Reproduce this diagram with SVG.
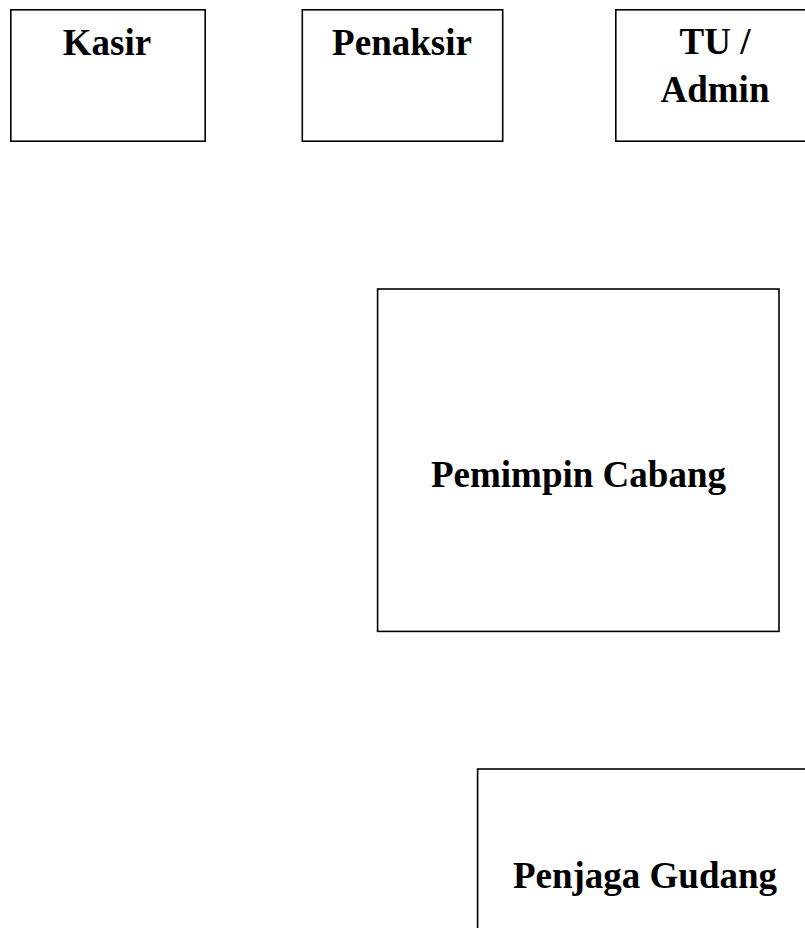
<svg xmlns="http://www.w3.org/2000/svg" width="805" height="928" viewBox="0 0 805 928">
<style>
.box{fill:#fff;stroke:#000;stroke-width:1.6}
.t{font-family:"Liberation Serif","Times New Roman",serif;font-weight:bold;font-size:37px;fill:#000;text-anchor:middle}
</style>
<rect width="805" height="928" fill="#fff"/>
<g id="kasir"><rect class="box" x="10.8" y="9.8" width="194.4" height="131.4"/><text class="t" x="107" y="55">Kasir</text></g>
<g id="penaksir"><rect class="box" x="302.3" y="9.8" width="200.4" height="131.4"/><text class="t" x="402" y="55">Penaksir</text></g>
<g id="tu-admin"><rect class="box" x="615.8" y="9.8" width="200" height="131.4"/><text class="t" x="715" y="54">TU /</text><text class="t" x="715" y="102">Admin</text></g>
<g id="pemimpin-cabang"><rect class="box" x="377.6" y="289" width="401.4" height="342.4"/><text class="t" x="578.5" y="487">Pemimpin Cabang</text></g>
<g id="penjaga-gudang"><rect class="box" x="477.6" y="769" width="336" height="200"/><text class="t" x="645" y="888">Penjaga Gudang</text></g>
<g id="connectors"></g>
</svg>
